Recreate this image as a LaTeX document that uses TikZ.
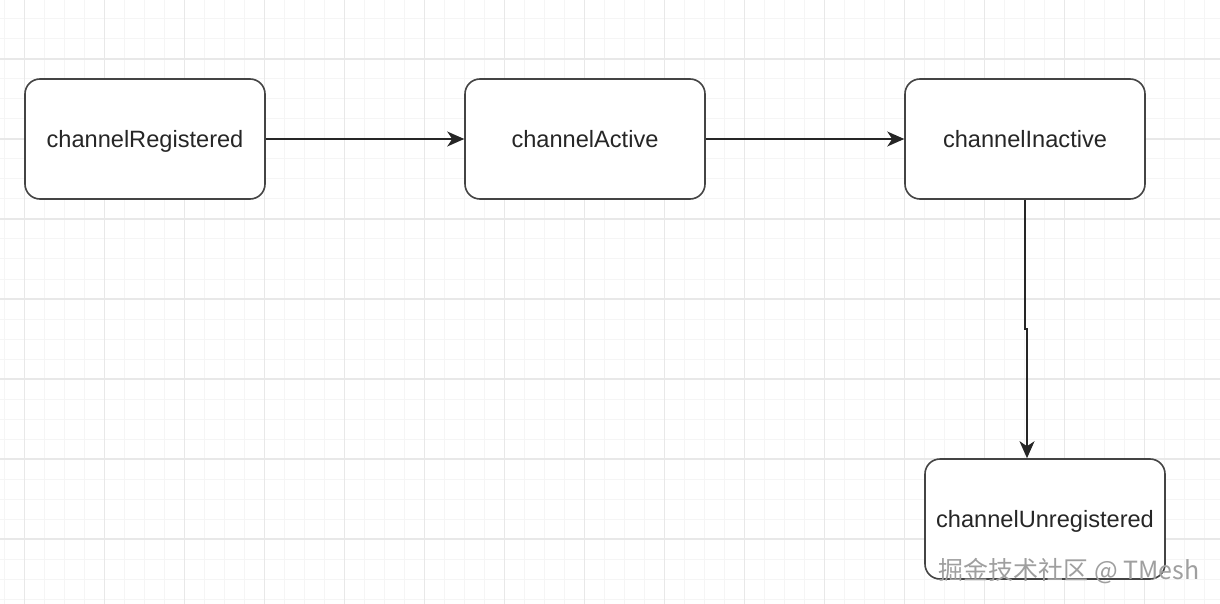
\documentclass[tikz,border=0pt]{standalone}
\usepackage{fontspec}
\setmainfont{Liberation Sans}
\newfontfamily\cjkfont{Noto Sans CJK SC}
\usetikzlibrary{positioning,arrows.meta}
\definecolor{cborder}{HTML}{444444}
\definecolor{cgridmin}{HTML}{F5F5F5}
\definecolor{cgridmaj}{HTML}{E8E8E8}
\tikzset{
  statebox/.style={rounded corners=7.5pt, draw=cborder, fill=white, line width=0.8pt,
    minimum width=120pt, minimum height=60pt, text height=8.5pt, text depth=0pt,
    font=\fontsize{11.8}{14}\selectfont, text=black!85},
  statearrow/.style={-{Stealth[length=8.5pt,width=7.5pt,inset=2.5pt]}, line width=0.7pt, color=black!85},
  minorline/.style={cgridmin, line width=0.5pt},
  majorline/.style={cgridmaj, line width=0.8pt}
}

\begin{document}
\begin{tikzpicture}[x=0.5pt, y=-0.5pt, node distance=129.2pt and 99.2pt]
    \useasboundingbox (0,0) rectangle (1220,604);
    \fill[white] (0,0) rectangle (1220,604);
    % background grid
    \foreach \gx in {4.5,24.5,...,1220} \draw[minorline] (\gx,0) -- (\gx,604);
    \foreach \gy in {19,39,...,604} \draw[minorline] (0,\gy) -- (1220,\gy);
    \foreach \gx in {24.5,104.5,...,1220} \draw[majorline] (\gx,0) -- (\gx,604);
    \foreach \gy in {59,139,...,604} \draw[majorline] (0,\gy) -- (1220,\gy);

    \node[statebox] (registered) at (145,139) {channelRegistered};
    \node[statebox, right=of registered] (active) {channelActive};
    \node[statebox, right=of active] (inactive) {channelInactive};
    \node[statebox, below=of inactive, xshift=10pt] (unregistered) {channelUnregistered};

    \draw[statearrow] (registered) -- (active);
    \draw[statearrow] (active) -- (inactive);
    \draw[statearrow] (inactive.south) -- ++(0,-64.5pt) coordinate (kink)
      -| ([xshift=-9pt]unregistered.north);

    % watermark
    \node[anchor=west, inner sep=0pt, text=gray!75, font=\cjkfont\fontsize{12.5}{14}\selectfont]
      (mark) at (938,571) {掘金技术社区 @ TMesh};
  \end{tikzpicture}
\end{document}
